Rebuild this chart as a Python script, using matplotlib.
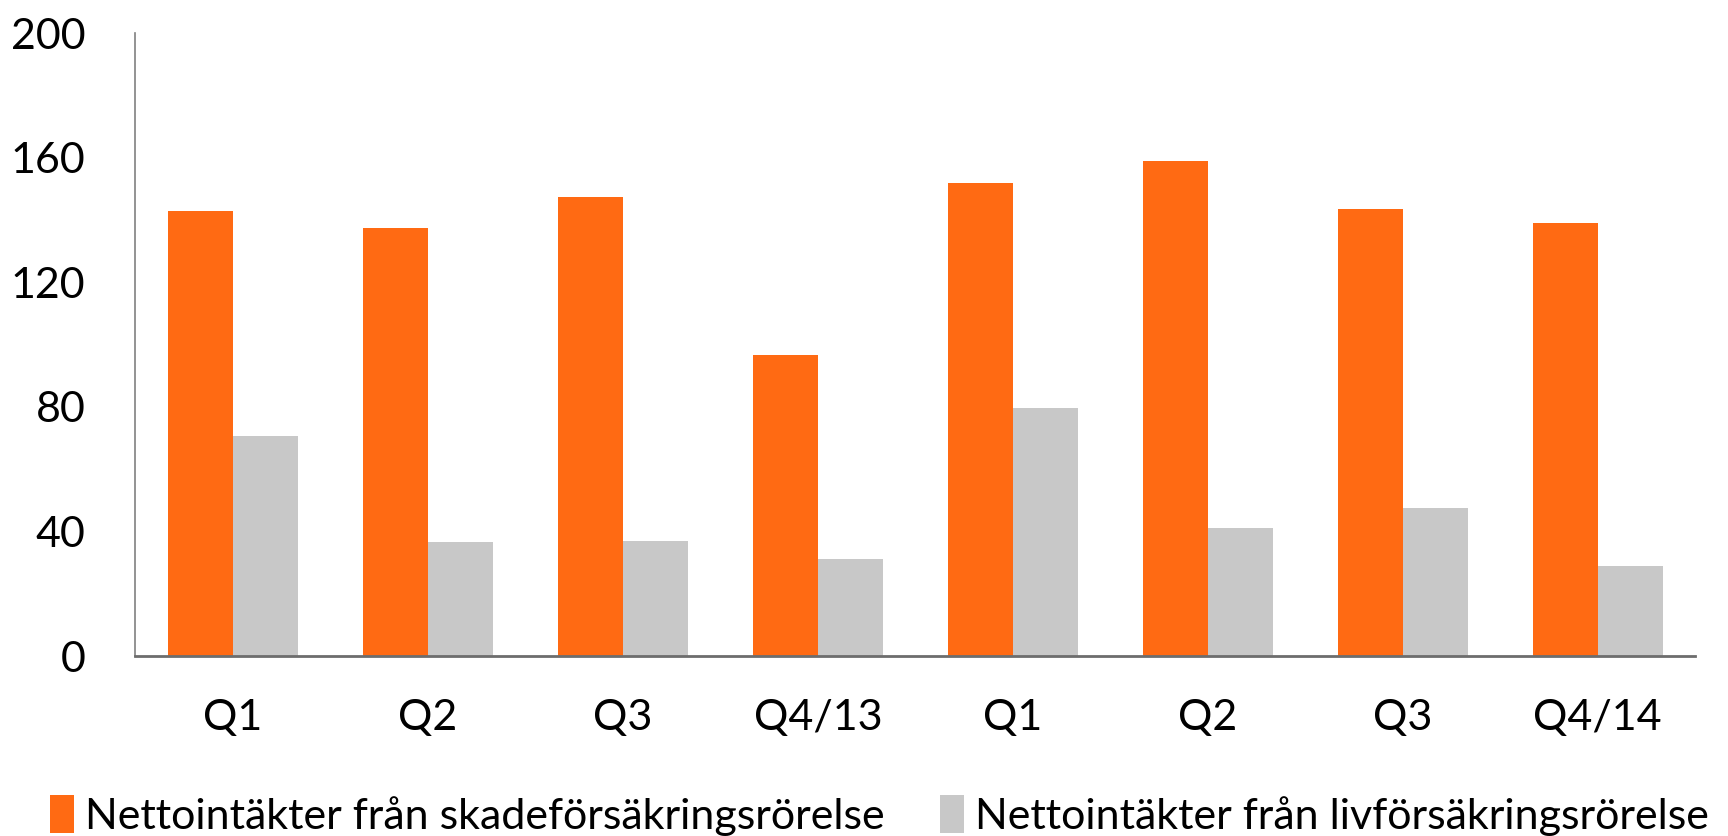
import matplotlib
matplotlib.use("Agg")
import matplotlib.pyplot as plt
import numpy as np

categories = ["Q1", "Q2", "Q3", "Q4/13", "Q1", "Q2", "Q3", "Q4/14"]
skade = [143, 137.5, 147.5, 96.5, 152, 159, 143.5, 139]
liv = [70.5, 36.5, 37, 31, 79.5, 41, 47.5, 29]
series_names = ["Nettointäkter från skadeförsäkringsrörelse",
                "Nettointäkter från livförsäkringsrörelse"]
yticks = [0, 40, 80, 120, 160, 200]

plt.rcParams['font.family'] = ['Lato', 'DejaVu Sans']

fig = plt.figure(figsize=(17.28, 8.36), dpi=100)
ax = fig.add_axes([0.0784, 0.2153, 0.981 - 0.0784, 0.9605 - 0.2153])

x = np.arange(len(categories))
w = 1 / 3
ax.bar(x - w / 2, skade, width=w, color="#FF6A13", label=series_names[0])
ax.bar(x + w / 2, liv, width=w, color="#C8C8C8", label=series_names[1])

ax.set_xlim(-0.5, len(categories) - 0.5)
ax.set_ylim(0, 200)
ax.set_yticks(yticks)
ax.set_xticks(x)
ax.set_xticklabels(categories)
ax.tick_params(axis="both", length=0, labelsize=31, colors="black")
ax.tick_params(axis="x", pad=31)
ax.tick_params(axis="y", pad=36)
for s in ["top", "right"]:
    ax.spines[s].set_visible(False)
ax.spines["left"].set_color("#808080")
ax.spines["left"].set_linewidth(1.2)
ax.spines["bottom"].set_color("#6d6d6d")
ax.spines["bottom"].set_linewidth(2)

fig.legend(loc="center left", bbox_to_anchor=(0.029, 0.025), ncol=2, frameon=False,
           fontsize=31, handlelength=0.55, handleheight=1.0, handletextpad=0.25,
           columnspacing=1.3, borderpad=0, borderaxespad=0)

fig.savefig("out.png", dpi=100)
